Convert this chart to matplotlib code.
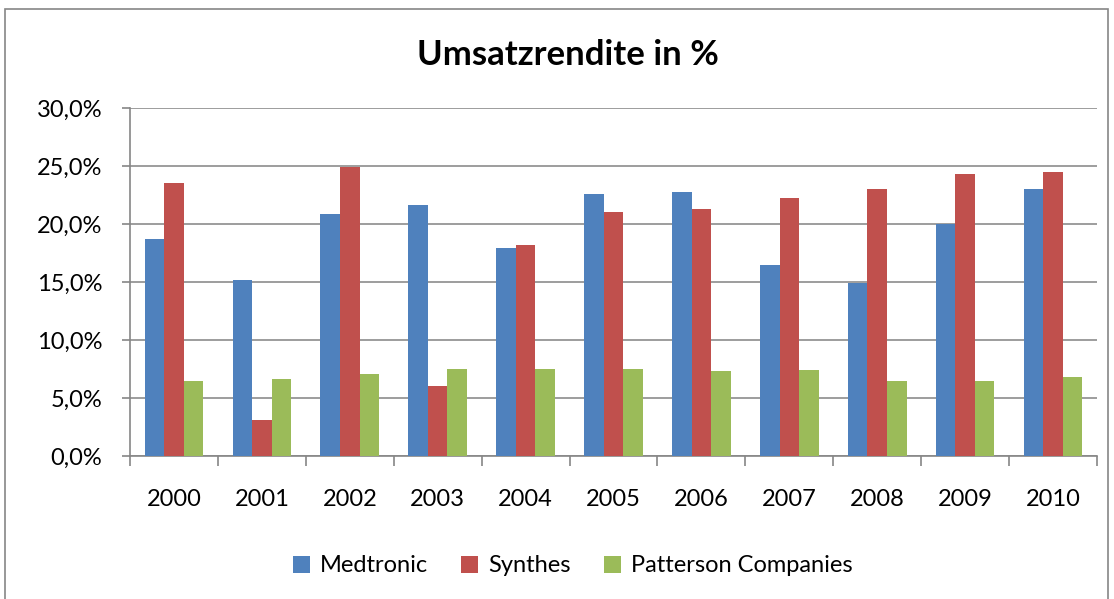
import matplotlib
matplotlib.use("Agg")
import matplotlib.pyplot as plt
import numpy as np
from matplotlib.patches import Rectangle
from matplotlib.ticker import FuncFormatter, MultipleLocator

years = ["2000", "2001", "2002", "2003", "2004", "2005", "2006", "2007", "2008", "2009", "2010"]
medtronic = [18.7, 15.2, 20.9, 21.6, 17.9, 22.6, 22.8, 16.5, 14.9, 20.0, 23.0]
synthes = [23.5, 3.1, 24.9, 6.0, 18.2, 21.0, 21.3, 22.2, 23.0, 24.3, 24.5]
patterson = [6.5, 6.6, 7.1, 7.5, 7.5, 7.5, 7.35, 7.4, 6.45, 6.45, 6.85]
series_names = ["Medtronic", "Synthes", "Patterson Companies"]
colors = ["#4F81BD", "#C0504D", "#9BBB59"]

plt.rcParams['font.family'] = ['Lato', 'DejaVu Sans']

W, H = 1114, 599
fig = plt.figure(figsize=(W / 100, H / 100), dpi=100)
fig.patch.set_facecolor("white")

# outer chart border
fig.add_artist(Rectangle((5 / W, -0.01), (1108 - 5) / W, (H - 9) / H + 0.01, transform=fig.transFigure,
                         fill=False, edgecolor="#868686", linewidth=1.2))

ax = fig.add_axes([130 / W, (H - 456) / H, (1097 - 130) / W, (456 - 108) / H])
x = np.arange(len(years))
bw = 0.222
for i, (vals, c, name) in enumerate(zip([medtronic, synthes, patterson], colors, series_names)):
    ax.bar(x + (i - 1) * bw, vals, width=bw, color=c, label=name, zorder=3)

ax.set_xlim(-0.5, len(years) - 0.5)
ax.set_ylim(0, 30)
ax.yaxis.set_major_locator(MultipleLocator(5))
ax.yaxis.set_major_formatter(FuncFormatter(lambda v, p: f"{v:.1f}%".replace(".", ",")))
ax.grid(axis="y", color="#8c8c8c", linewidth=1.2, zorder=0)
ax.set_axisbelow(True)

ax.set_xticks(x)
ax.set_xticklabels(years)
ax.set_xticks(np.arange(-0.5, len(years)), minor=True)
ax.tick_params(axis="x", which="major", length=0, pad=24, labelsize=17)
ax.tick_params(axis="x", which="minor", length=7, width=1.2, color="#868686", direction="out")
ax.tick_params(axis="y", length=6, width=1.2, color="#868686", labelsize=17, pad=14)

for s in ["top", "right"]:
    ax.spines[s].set_visible(False)
for s in ["left", "bottom"]:
    ax.spines[s].set_color("#868686")
    ax.spines[s].set_linewidth(1.2)

fig.text(568 / W, 1 - 55 / H, "Umsatzrendite in %", ha="center", va="center",
         fontsize=25, fontweight="bold")

handles, labels = ax.get_legend_handles_labels()
fig.legend(handles, labels, loc="center", bbox_to_anchor=(573 / W, 1 - 566 / H), ncol=3,
           frameon=False, fontsize=17, handlelength=0.7, handleheight=0.7,
           handletextpad=0.45, columnspacing=1.4)

fig.savefig("out.png", dpi=100)
